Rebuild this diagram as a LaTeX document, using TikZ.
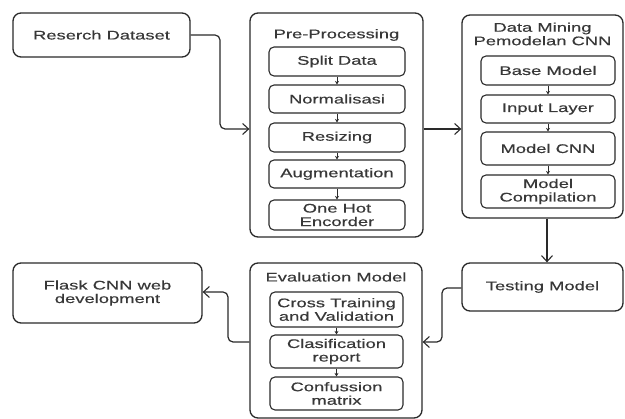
\documentclass[tikz,border=0pt]{standalone}
\usepackage{fontspec}
\setmainfont{Liberation Sans}[FakeStretch=1.47,FakeBold=0.4]
\usetikzlibrary{arrows.meta}
\definecolor{ln}{HTML}{2A2A2A}
\definecolor{tx}{HTML}{383838}
\begin{document}
\begin{tikzpicture}[x=1pt,y=-1pt,
  every node/.style={text=tx,font=\fontsize{12.5}{13.5}\selectfont,align=center,inner sep=0pt},
  outerbox/.style={draw=ln,rounded corners=8pt,line width=1.3pt},
  innerbox/.style={draw=ln,rounded corners=5pt,line width=1.1pt},
  flow/.style={draw=ln,line width=1.2pt,rounded corners=5pt,-{Straight Barb[length=6pt,width=11pt,line width=1.1pt]}},
  tiny/.style={draw=ln,line width=1pt,-{Stealth[length=3.5pt,width=4pt]}}]
\useasboundingbox (0,0) rectangle (625,419);
\fill[white] (0,0) rectangle (625,419);
% Research dataset
\node[outerbox,minimum width=177pt,minimum height=44pt] (rd) at (101.5,35) {Reserch Dataset};
% Pre-processing
\node[outerbox,minimum width=173pt,minimum height=224pt] (pre) at (336.5,125) {};
\node (pret) at (336.5,35) {Pre-Processing};
\node[innerbox,minimum width=136pt,minimum height=29pt] (p1) at (337,61.5) {Split Data};
\node[innerbox,minimum width=136pt,minimum height=28pt] (p2) at (337,99) {Normalisasi};
\node[innerbox,minimum width=136pt,minimum height=29pt] (p3) at (337,137.5) {Resizing};
\node[innerbox,minimum width=136pt,minimum height=28pt] (p4) at (337,174) {Augmentation};
\node[innerbox,minimum width=136pt,minimum height=30pt] (p5) at (337,215) {One Hot\\Encorder};
% Data mining
\node[outerbox,minimum width=161pt,minimum height=203pt] (dm) at (542.5,116.5) {};
\node (dmt) at (542.5,34) {Data Mining\\Pemodelan CNN};
\node[innerbox,minimum width=134pt,minimum height=29pt] (d1) at (548,70.5) {Base Model};
\node[innerbox,minimum width=134pt,minimum height=28pt] (d2) at (548,109) {Input Layer};
\node[innerbox,minimum width=134pt,minimum height=33pt] (d3) at (548,148.5) {Model CNN};
\node[innerbox,minimum width=134pt,minimum height=33pt] (d4) at (548,191.5) {Model\\Compilation};
% Testing
\node[outerbox,minimum width=161pt,minimum height=48pt] (tm) at (542.5,287) {Testing Model};
% Evaluation
\node[outerbox,minimum width=172pt,minimum height=155pt] (ev) at (336,340.5) {};
\node (evt) at (336,277) {Evaluation Model};
\node[innerbox,minimum width=133pt,minimum height=35pt] (e1) at (336.5,309.5) {Cross Training\\and Validation};
\node[innerbox,minimum width=133pt,minimum height=33pt] (e2) at (336.5,351.5) {Clasification\\report};
\node[innerbox,minimum width=133pt,minimum height=33pt] (e3) at (336.5,393.5) {Confussion\\matrix};
% Flask
\node[outerbox,minimum width=189pt,minimum height=60pt] (fl) at (107.5,293) {Flask CNN web\\development};
% inner arrows
\draw[tiny] (p1) -- (p2);
\draw[tiny] (p2) -- (p3);
\draw[tiny] (p3) -- (p4);
\draw[tiny] (p4) -- (p5);
\draw[tiny] (d1) -- (d2);
\draw[tiny] (d2) -- (d3);
\draw[tiny] (d3) -- (d4);
\draw[tiny] (e1) -- (e2);
\draw[tiny] (e2) -- (e3);
% main connectors
\draw[flow] (rd.east) -- (220,35) -- (220,129) -- (pre.west |- 0,129);
\draw[flow] (pre.east |- 0,129) -- (dm.west |- 0,129);
\draw[flow] (dm.south -| 547,0) -- (tm.north -| 547,0);
\draw[flow] (tm.west |- 0,288) -- (442,288) -- (442,342) -- (ev.east |- 0,342);
\draw[flow] (ev.west |- 0,342) -- (228,342) -- (228,292) -- (fl.east |- 0,292);
\end{tikzpicture}
\end{document}
